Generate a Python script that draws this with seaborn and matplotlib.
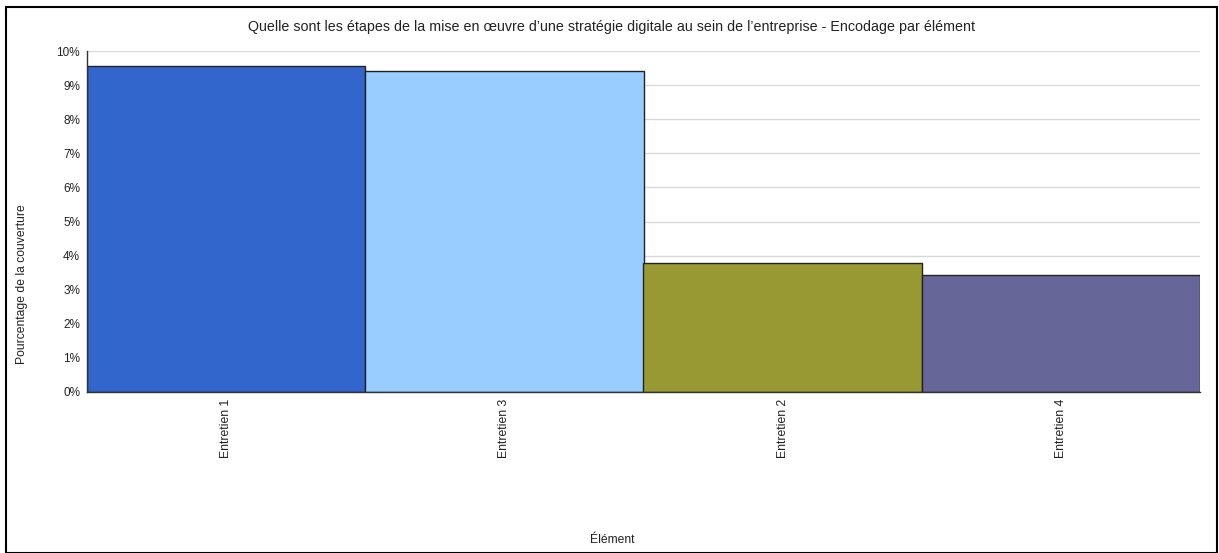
import matplotlib
matplotlib.use("Agg")
import matplotlib.pyplot as plt
import seaborn as sns
import pandas as pd
from matplotlib.patches import Rectangle
from matplotlib.ticker import FuncFormatter

categories = ["Entretien 1", "Entretien 3", "Entretien 2", "Entretien 4"]
values = [9.57, 9.40, 3.77, 3.43]
colors = ["#3366cc", "#99ccff", "#999933", "#666699"]
yticks = [0, 1, 2, 3, 4, 5, 6, 7, 8, 9, 10]

sns.set_theme(style="white")
plt.rcParams['font.family'] = ['Liberation Sans', 'DejaVu Sans']

df = pd.DataFrame({"cat": categories, "val": values})

fig = plt.figure(figsize=(12.19, 5.53), dpi=100)
ax = fig.add_axes([87/1219, 1-392/553, (1200-87)/1219, (392-51)/553])

sns.barplot(data=df, x="cat", y="val", hue="cat", palette=colors, width=1.0,
            edgecolor="#222222", linewidth=1.0, legend=False, ax=ax, saturation=1)

ax.set_ylim(0, 10)
ax.set_xlim(-0.5, 3.5)
ax.set_yticks(yticks)
ax.yaxis.set_major_formatter(FuncFormatter(lambda v, p: f"{int(v)}%"))
ax.grid(axis="y", color="#d9d9d9", linewidth=1)
ax.set_axisbelow(True)
for s in ["top", "right"]:
    ax.spines[s].set_visible(False)
for s in ["left", "bottom"]:
    ax.spines[s].set_color("#333333")
    ax.spines[s].set_linewidth(1)
ax.tick_params(axis="both", length=0, colors="#222222")
ax.tick_params(axis="y", pad=5, labelsize=8.5)
ax.tick_params(axis="x", pad=5, labelsize=8.8)
plt.setp(ax.get_xticklabels(), rotation=90, va="top", ha="center")

ax.set_xlabel("")
ax.set_ylabel("")
fig.text(612/1219, 1-27/553, "Quelle sont les étapes de la mise en œuvre d\u2019une stratégie digitale au sein de l\u2019entreprise - Encodage par élément",
         ha="center", va="center", fontsize=10.3, color="#222222")
fig.text(22/1219, 1-284/553, "Pourcentage de la couverture", rotation=90,
         ha="center", va="center", fontsize=8.7, color="#222222")
fig.text(612/1219, 1-540/553, "Élément", ha="center", va="center",
         fontsize=8.7, color="#222222")

fig.patches.append(Rectangle((6/1219, 0.5/553), 1211/1219, (546)/553,
                             transform=fig.transFigure, fill=False,
                             edgecolor="black", linewidth=1.5))

fig.savefig("out.png", dpi=100, facecolor="white")
